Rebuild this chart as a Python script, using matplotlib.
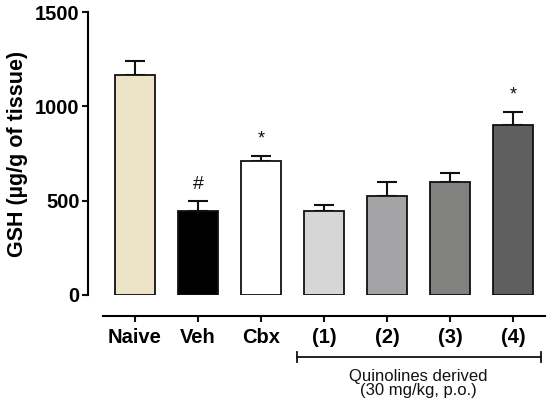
import matplotlib
matplotlib.use("Agg")
import matplotlib.pyplot as plt
import matplotlib.transforms as mtransforms

categories = ["Naive", "Veh", "Cbx", "(1)", "(2)", "(3)", "(4)"]
means = [1166, 445, 710, 447, 526, 599, 901]
sems = [74, 53, 25, 30, 74, 46, 67]
colors = ["#EDE4C8", "#000000", "#FFFFFF", "#D6D6D6", "#A4A3A6", "#81817F", "#5F5F5F"]
marks = ["", "#", "*", "", "", "", "*"]
yticks = [0, 500, 1000, 1500]

plt.rcParams['font.family'] = ['Liberation Sans', 'DejaVu Sans']

fig = plt.figure(figsize=(5.5, 4.09), dpi=100)
W, H = 550, 409
left_px, right_px, top_px, bottom_px = 88, 545, 12, 295
ax = fig.add_axes([left_px / W, 1 - bottom_px / H, (right_px - left_px) / W, (bottom_px - top_px) / H])

for s in ["top", "right"]:
    ax.spines[s].set_visible(False)
ax.spines["left"].set_linewidth(1.5)
ax.spines["bottom"].set_linewidth(1.5)
ax.spines["bottom"].set_position(("outward", 15))

x = list(range(len(categories)))
ax.bar(x, means, width=0.635, color=colors, edgecolor="#111111", linewidth=1.3, zorder=2)
ax.errorbar(x, means, yerr=[[0] * len(sems), sems], fmt="none", ecolor="#111111",
            elinewidth=1.5, capsize=7, capthick=1.5, zorder=1)

for xi, m, s, t in zip(x, means, sems, marks):
    if t:
        ax.text(xi, m + s + 45, t, ha="center", va="bottom", fontsize=14 if t == "#" else 13,
                color="#111111")

ax.set_xlim(-0.746, 6.508)
ax.set_ylim(0, 1500)
ax.spines["left"].set_bounds(0, 1500)
ax.spines["bottom"].set_bounds(-0.508, 6.508)
ax.set_yticks(yticks)
ax.set_xticks(x)
ax.set_xticklabels(categories, fontsize=14.5, fontweight="bold")
ax.set_yticklabels([str(v) for v in yticks], fontsize=14.5, fontweight="bold")
ax.set_ylabel("GSH (µg/g of tissue)", fontsize=15.5, fontweight="bold", labelpad=5)
ax.tick_params(axis="both", direction="out", width=1.5, length=4, color="#111111")
ax.tick_params(axis="x", pad=5)
ax.tick_params(axis="y", pad=2)

# bracket below groups (1)-(4)
trans = mtransforms.blended_transform_factory(ax.transData, ax.transAxes)
yb = -(356.7 - bottom_px) / (bottom_px - top_px)
cap = 5 / (bottom_px - top_px)
x0, x1 = 2.567, 6.44
ax.plot([x0, x1], [yb, yb], color="#111111", lw=1.3, transform=trans, clip_on=False)
ax.plot([x0, x0], [yb - cap, yb + cap], color="#111111", lw=1.3, transform=trans, clip_on=False)
ax.plot([x1, x1], [yb - cap, yb + cap], color="#111111", lw=1.3, transform=trans, clip_on=False)
ax.text((x0 + x1) / 2, yb - 12 / (bottom_px - top_px), "Quinolines derived\n(30 mg/kg, p.o.)",
        transform=trans, ha="center", va="top", fontsize=12, linespacing=0.95, color="#111111")

fig.savefig("out.png", dpi=100)
